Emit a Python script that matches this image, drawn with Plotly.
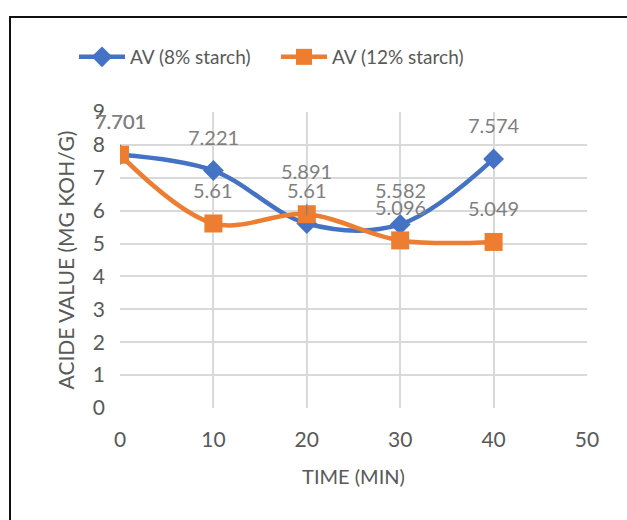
import plotly.graph_objects as go

# Acid value over reaction time for two starch loadings
time_min = [0, 10, 20, 30, 40]
av_8 = [7.701, 7.221, 5.61, 5.582, 7.574]
av_12 = [7.701, 5.61, 5.891, 5.096, 5.049]

x_ticks = [0, 10, 20, 30, 40, 50]
y_ticks = [0, 1, 2, 3, 4, 5, 6, 7, 8, 9]

BLUE = "#4472C4"
ORANGE = "#ED7D31"
GRID = "#D9D9D9"
TEXT = "#595959"
LABEL = "#7F7F7F"
FONT = "Lato"

fig = go.Figure()
fig.add_trace(go.Scatter(
    x=time_min, y=av_8, name="AV (8% starch)", mode="lines+markers",
    line=dict(color=BLUE, width=4.5, shape="spline", smoothing=1),
    marker=dict(symbol="diamond", size=16, color=BLUE),
))
fig.add_trace(go.Scatter(
    x=time_min, y=av_12, name="AV (12% starch)", mode="lines+markers",
    line=dict(color=ORANGE, width=4.5, shape="spline", smoothing=1),
    marker=dict(symbol="square", size=18, color=ORANGE),
))

# Data labels above each point
label_font = dict(family=FONT, size=20, color=LABEL)
annotations = []
for series, lifts in ((av_8, [34, 34, None, 34, 34]), (av_12, [34, 33, 43, 33, 34])):
    for x, y, lift in zip(time_min, series, lifts):
        if lift is None:
            # label pulled up with a leader line
            annotations.append(dict(
                x=x, y=y, text=f"{y:g}", showarrow=True, arrowhead=0,
                ax=0, ay=-33, standoff=8, arrowcolor=LABEL, arrowwidth=1.2,
                font=label_font,
            ))
        else:
            annotations.append(dict(
                x=x, y=y, text=f"{y:g}", showarrow=False, yshift=lift,
                font=label_font,
            ))

axis_common = dict(
    showgrid=True, gridcolor=GRID, gridwidth=1.5, zeroline=False,
    showline=False, ticks="", tickfont=dict(family=FONT, size=21, color=TEXT),
)

fig.update_layout(
    width=627, height=520,
    margin=dict(l=120, r=40, t=112, b=112),
    paper_bgcolor="white", plot_bgcolor="white",
    font=dict(family=FONT, color=TEXT),
    showlegend=True,
    legend=dict(
        orientation="h", x=(74 - 120) / 467, y=(408 - 57) / 296,
        xanchor="left", yanchor="middle",
        font=dict(family=FONT, size=19, color=TEXT), itemwidth=46,
        entrywidth=141, entrywidthmode="pixels",
        bgcolor="rgba(0,0,0,0)",
    ),
    xaxis=dict(
        range=[0, 50], tickvals=x_ticks, ticklabelstandoff=17,
        title=dict(text="TIME (MIN)", font=dict(family=FONT, size=20, color=TEXT), standoff=19),
        **axis_common,
    ),
    yaxis=dict(
        range=[0, 9], tickvals=y_ticks, ticklabelstandoff=14,
        title=dict(text="ACIDE VALUE (MG KOH/G)", font=dict(family=FONT, size=21, color=TEXT), standoff=12),
        **axis_common,
    ),
    annotations=annotations,
    shapes=[dict(
        type="rect", xref="paper", yref="paper",
        x0=(10 - 120) / 467, x1=(632 - 120) / 467,
        y0=(408 - 526) / 296, y1=(408 - 17) / 296,
        line=dict(color="#111111", width=2), fillcolor="rgba(0,0,0,0)", layer="below",
    )],
)

fig.write_html("out.html")
